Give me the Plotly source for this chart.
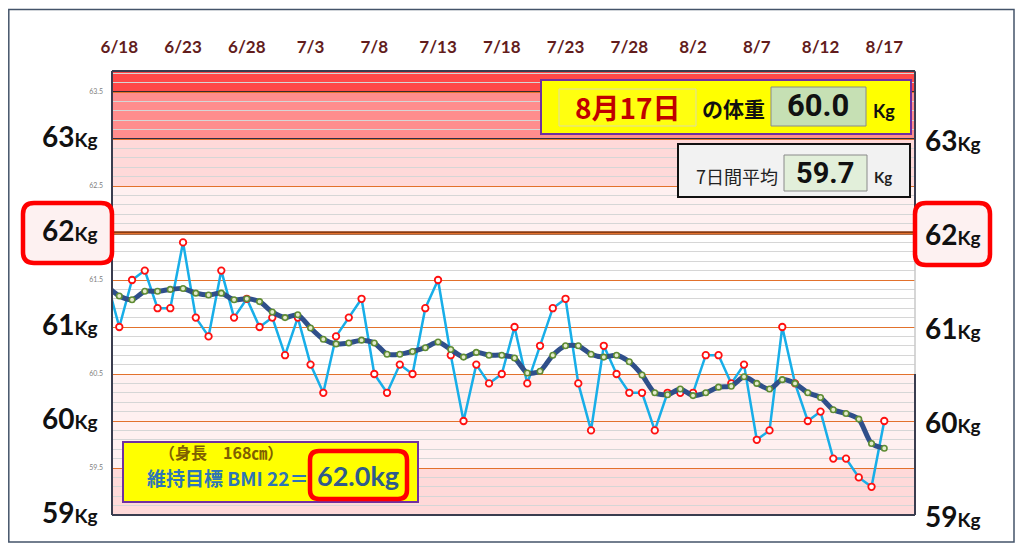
import pandas as pd
import plotly.graph_objects as go

# ---------------- data ----------------
dates = pd.date_range("2023-06-17", "2023-08-17", freq="D")
weights = [61.5, 61.0, 61.5, 61.6, 61.2, 61.2, 61.9, 61.1, 60.9, 61.6,
           61.1, 61.3, 61.0, 61.1, 60.7, 61.1, 60.6, 60.3, 60.9, 61.1,
           61.3, 60.5, 60.3, 60.6, 60.5, 61.2, 61.5, 60.7, 60.0, 60.6,
           60.4, 60.5, 61.0, 60.4, 60.8, 61.2, 61.3, 60.4, 59.9, 60.8,
           60.5, 60.3, 60.3, 59.9, 60.3, 60.3, 60.3, 60.7, 60.7, 60.4,
           60.6, 59.8, 59.9, 61.0, 60.4, 60.0, 60.1, 59.6, 59.6, 59.4,
           59.3, 60.0]
avg7 = [61.44, 61.33, 61.29, 61.38, 61.38, 61.40, 61.41, 61.36, 61.34, 61.36,
        61.29, 61.30, 61.27, 61.16, 61.10, 61.13, 60.99, 60.87, 60.82, 60.83,
        60.86, 60.83, 60.71, 60.71, 60.74, 60.78, 60.84, 60.76, 60.68, 60.73,
        60.70, 60.70, 60.67, 60.51, 60.53, 60.70, 60.80, 60.80, 60.71, 60.68,
        60.70, 60.63, 60.49, 60.30, 60.28, 60.34, 60.27, 60.30, 60.36, 60.37,
        60.47, 60.40, 60.34, 60.44, 60.40, 60.30, 60.25, 60.12, 60.08, 60.02,
        59.76, 59.71]
tick_dates = ["2023-06-18", "2023-06-23", "2023-06-28", "2023-07-03", "2023-07-08",
              "2023-07-13", "2023-07-18", "2023-07-23", "2023-07-28", "2023-08-02",
              "2023-08-07", "2023-08-12", "2023-08-17"]
tick_text = ["6/18", "6/23", "6/28", "7/3", "7/8", "7/13", "7/18", "7/23",
             "7/28", "8/2", "8/7", "8/12", "8/17"]
y_ticks = [59.0, 59.5, 60.0, 60.5, 61.0, 61.5, 62.0, 62.5, 63.0, 63.5]
y_tick_text = ["", "59.5", "", "60.5", "", "61.5", "", "62.5", "", "63.5"]
kg_levels = [63, 62, 61, 60, 59]
band_lo = [63.5, 63.0, 62.5, 62.0, 59.5, 59.0]
band_hi = [63.72, 63.5, 63.0, 62.5, 60.5, 59.5]
band_col = ["#ff4848", "#ff8d8d", "#ffd9d9", "#fff0f0", "#fff0f0", "#ffd9d9"]
target_level = 62.0
today_label = "8月17日"
today_weight = "60.0"
avg_label = "7日間平均"
avg_value = "59.7"
height_text = "（身長　168㎝）"
bmi_text = "維持目標 BMI 22＝"
bmi_weight = "62.0kg"

# ---------------- geometry helpers (page pixel coords) ----------------
OFF = 8                      # default page body margin
W, H = 1024 - 2 * OFF, 551 - 2 * OFF
PX0, PX1, PY0, PY1 = 112, 915, 71, 515   # plot area on the page
PW, PH = PX1 - PX0, PY1 - PY0
L, T = PX0 - OFF, PY0 - OFF
R, B = W - L - PW, H - T - PH


def px(x):
    return (x - PX0) / PW


def py(y):
    return (PY1 - y) / PH


def rrect(x0, y0, x1, y1, r):
    rx, ry = r / PW, r / PH
    a0, a1, b0, b1 = px(x0), px(x1), py(y0), py(y1)
    return (f"M {a0+rx},{b0} L {a1-rx},{b0} Q {a1},{b0} {a1},{b0-ry} "
            f"L {a1},{b1+ry} Q {a1},{b1} {a1-rx},{b1} L {a0+rx},{b1} "
            f"Q {a0},{b1} {a0},{b1+ry} L {a0},{b0-ry} Q {a0},{b0} {a0+rx},{b0} Z")


LAT = "Lato, 'Noto Sans CJK JP', sans-serif"
JP = "'Noto Sans CJK JP', sans-serif"
NAR = "Roboto, sans-serif"

fig = go.Figure()
fig.add_trace(go.Scatter(
    x=dates, y=weights, mode="lines+markers",
    line=dict(color="#18aee8", width=2.5),
    marker=dict(symbol="circle", size=6.5, color="white",
                line=dict(color="#ff1010", width=1.8)),
    hoverinfo="skip", showlegend=False))
fig.add_trace(go.Scatter(
    x=dates, y=avg7, mode="lines+markers",
    line=dict(color="#2f4f8a", width=5, shape="spline", smoothing=0.7),
    marker=dict(symbol="circle", size=5.5, color="#e4ebcc",
                line=dict(color="#5f8c34", width=1.6)),
    hoverinfo="skip", showlegend=False))

shapes = []
for lo, hi, c in zip(band_lo, band_hi, band_col):
    shapes.append(dict(type="rect", xref="paper", yref="y", x0=0, x1=1, y0=lo, y1=hi,
                       fillcolor=c, line=dict(width=0), layer="below"))
shapes.append(dict(type="line", xref="paper", yref="y", x0=0, x1=1, y0=63.0, y1=63.0,
                   line=dict(color="#2c3045", width=2), layer="between"))
shapes.append(dict(type="line", xref="paper", yref="y", x0=0, x1=1, y0=63.5, y1=63.5,
                   line=dict(color="#3a2a2a", width=2), layer="between"))
shapes.append(dict(type="line", xref="paper", yref="y", x0=0, x1=1, y0=target_level, y1=target_level,
                   line=dict(color="#8b3a10", width=3.5), layer="between"))
dark = "#3a3d4f"
for (x0, y0, x1, y1) in [(0, 0, 0, 1), (0, 0, 1, 0), (0, 1, 1, 1)]:
    shapes.append(dict(type="line", xref="paper", yref="paper", x0=x0, y0=y0, x1=x1, y1=y1,
                       line=dict(color=dark, width=2), layer="above"))
shapes.append(dict(type="line", xref="paper", yref="y", x0=1, x1=1, y0=62.0, y1=63.72,
                   line=dict(color=dark, width=2), layer="above"))
shapes.append(dict(type="line", xref="paper", yref="y", x0=1, x1=1, y0=59.0, y1=60.5,
                   line=dict(color=dark, width=2), layer="above"))
shapes.append(dict(type="line", xref="paper", yref="y", x0=1, x1=1, y0=60.5, y1=62.0,
                   line=dict(color="#c8c8c8", width=1.5), layer="above"))
# outer frame
shapes.append(dict(type="rect", xref="paper", yref="paper", x0=px(8.8), x1=px(1014),
                   y0=py(542), y1=py(9.5), line=dict(color="#44546a", width=1.5), layer="above"))
# 62Kg boxes
shapes.append(dict(type="path", xref="paper", yref="paper", path=rrect(23, 203, 112, 263, 11),
                   fillcolor="#fdf1f1", line=dict(color="#ff0000", width=4.5), layer="above"))
shapes.append(dict(type="path", xref="paper", yref="paper", path=rrect(915, 203, 990, 265, 11),
                   fillcolor="#fdf1f1", line=dict(color="#ff0000", width=4.5), layer="above"))
# today box
shapes.append(dict(type="rect", xref="paper", yref="paper", x0=px(541), x1=px(911),
                   y0=py(134), y1=py(80), fillcolor="#ffff00",
                   line=dict(color="#7030a0", width=2), layer="above"))
shapes.append(dict(type="rect", xref="paper", yref="paper", x0=px(559), x1=px(696),
                   y0=py(126), y1=py(89), fillcolor="#ffff10",
                   line=dict(color="#dcdca8", width=1), layer="above"))
shapes.append(dict(type="rect", xref="paper", yref="paper", x0=px(771), x1=px(866),
                   y0=py(126), y1=py(87), fillcolor="#c6e0b4",
                   line=dict(color="#8a8a8a", width=1), layer="above"))
# 7-day box
shapes.append(dict(type="rect", xref="paper", yref="paper", x0=px(678), x1=px(910),
                   y0=py(197), y1=py(144), fillcolor="#f2f2f2",
                   line=dict(color="#111111", width=2), layer="above"))
shapes.append(dict(type="rect", xref="paper", yref="paper", x0=px(784), x1=px(867),
                   y0=py(191), y1=py(155), fillcolor="#e2efda",
                   line=dict(color="#8a8a8a", width=1), layer="above"))
# BMI box
shapes.append(dict(type="rect", xref="paper", yref="paper", x0=px(123), x1=px(418),
                   y0=py(502), y1=py(442), fillcolor="#ffff00",
                   line=dict(color="#7030a0", width=2), layer="above"))
shapes.append(dict(type="path", xref="paper", yref="paper", path=rrect(310, 451, 407, 499, 9),
                   fillcolor="#ffff00", line=dict(color="#ff0000", width=4.5), layer="above"))

ann = []
for lv in kg_levels:
    txt_kg = f"<b>{lv}<span style='font-size:19px'>Kg</span></b>"
    ann.append(dict(xref="paper", yref="y", x=px(100), y=lv, xanchor="right", yanchor="middle",
                    yshift=3, text=txt_kg, showarrow=False,
                    font=dict(family=LAT, size=28, color="#111111")))
    ann.append(dict(xref="paper", yref="y", x=px(923), y=lv, xanchor="left", yanchor="middle",
                    yshift=-1, text=txt_kg, showarrow=False,
                    font=dict(family=LAT, size=28, color="#111111")))


def txt(x, y, s, size, color, family=JP, bold=True, anchor="center"):
    ann.append(dict(xref="paper", yref="paper", x=px(x), y=py(y), xanchor=anchor,
                    yanchor="middle", text=(f"<b>{s}</b>" if bold else s), showarrow=False,
                    font=dict(family=family, size=size, color=color)))


txt(628, 107, today_label, 28, "#c00000")
txt(733, 108, "の体重", 21, "#111111")
txt(818, 106, today_weight, 31, "#111111", family=NAR)
txt(884, 111, "Kg", 18, "#111111", family=LAT)
txt(737, 176, avg_label, 18, "#222222", bold=False)
txt(825, 173, avg_value, 29, "#111111", family=NAR)
txt(883, 177, "Kg", 15, "#222222", family=LAT)
txt(221, 452, height_text, 16, "#7f6000")
txt(227, 477, bmi_text, 19, "#2e75b6")
txt(358, 475, bmi_weight, 27, "#2f5b8c", family=LAT)

fig.update_layout(
    width=W, height=H, margin=dict(l=L, r=R, t=T, b=B),
    paper_bgcolor="white", plot_bgcolor="white",
    shapes=shapes, annotations=ann, showlegend=False, hovermode=False,
    xaxis=dict(type="date", side="top", range=["2023-06-17 10:15", "2023-08-19 09:50"],
               tickvals=tick_dates, ticktext=tick_text, ticks="", showgrid=False,
               zeroline=False, showline=False, ticklabelstandoff=14,
               tickfont=dict(family=LAT, size=17, color="#621c1c", weight="bold")),
    yaxis=dict(range=[59, 59 + PH / 94], tickvals=y_ticks, ticktext=y_tick_text, ticks="",
               showgrid=True, gridcolor="#e2712c", gridwidth=1.3, zeroline=False,
               showline=False, ticklabelstandoff=8,
               tickfont=dict(family=LAT, size=7, color="#808080"),
               minor=dict(dtick=0.1, tick0=59, showgrid=True, gridcolor="#d6d6d6",
                          gridwidth=1)),
)
fig.write_html("out.html")
